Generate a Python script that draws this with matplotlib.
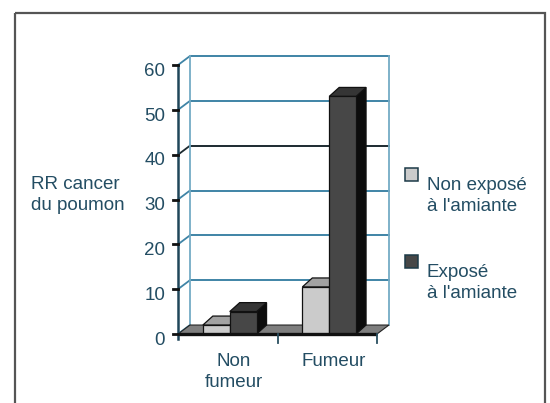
import matplotlib

matplotlib.use("Agg")

import matplotlib.pyplot as plt
from matplotlib.patches import Polygon, Rectangle
from matplotlib.transforms import Affine2D

CATEGORIES = ["Non\nfumeur", "Fumeur"]
SERIES = ["Non exposé\nà l'amiante", "Exposé\nà l'amiante"]
VALUES = {
    "Non exposé\nà l'amiante": [2, 10.5],
    "Exposé\nà l'amiante": [5, 53],
}
Y_TICKS = [0, 10, 20, 30, 40, 50, 60]
Y_LABEL = "RR cancer\ndu poumon"

W, H = 550, 403
X0, CAT_PX = 178, 99.5
Y0, UNIT_PX = 334, 4.483

WALL_DX, WALL_DY = 0.12, 2.0
BAR_DX, BAR_DY = 0.10, 2.0
BAR_W = 0.27
GROUP_SHIFT = 0.52

TEXT_COLOR = "#234d63"
GRID_COLOR = "#3f84a6"
FACE = {
    SERIES[0]: {"front": "#cbcbcb", "top": "#a2a2a2", "side": "#8a8a8a"},
    SERIES[1]: {"front": "#474747", "top": "#353535", "side": "#0c0c0c"},
}
FONT = ["Liberation Sans", "DejaVu Sans"]
FS = 13.5

plt.rcParams["font.family"] = FONT

fig = plt.figure(figsize=(W / 100, H / 100), dpi=100)
ax = fig.add_axes([0, 0, 1, 1])
ax.set_xlim(-X0 / CAT_PX, (W - X0) / CAT_PX)
ax.set_ylim((Y0 - H) / UNIT_PX, Y0 / UNIT_PX)
ax.set_axis_off()

pix = Affine2D().scale(1 / W, -1 / H).translate(0, 1) + fig.transFigure

n_cat = len(CATEGORIES)
y_top = Y_TICKS[-1]

# floor
floor = Polygon(
    [(0, 0), (n_cat, 0), (n_cat + WALL_DX, WALL_DY), (WALL_DX, WALL_DY)],
    closed=True, facecolor="#7e7e7e", edgecolor="#222222", lw=0.8, zorder=2,
)
ax.add_patch(floor)

# back wall + side wall gridlines
for v in Y_TICKS[1:]:
    color = "#1c2a30" if v == 40 else GRID_COLOR
    ax.plot([WALL_DX, n_cat + WALL_DX], [v + WALL_DY, v + WALL_DY], color=color, lw=1.4, zorder=1)
for v in Y_TICKS:
    color = "#1c2a30" if v == 40 else GRID_COLOR
    ax.plot([0, WALL_DX], [v, v + WALL_DY], color=color, lw=1.3, zorder=1)
for xe in [WALL_DX, n_cat + WALL_DX]:
    ax.plot([xe, xe], [WALL_DY, y_top + WALL_DY], color="#74abc5", lw=1.3, zorder=1)

# bars
for i in range(n_cat):
    for j, name in enumerate(SERIES):
        h = VALUES[name][i]
        left = i + GROUP_SHIFT - BAR_W + j * BAR_W
        right = left + BAR_W
        c = FACE[name]
        front = [(left, 0), (right, 0), (right, h), (left, h)]
        top = [(left, h), (right, h), (right + BAR_DX, h + BAR_DY), (left + BAR_DX, h + BAR_DY)]
        side = [(right, 0), (right + BAR_DX, BAR_DY), (right + BAR_DX, h + BAR_DY), (right, h)]
        for pts, col in [(side, c["side"]), (top, c["top"]), (front, c["front"])]:
            ax.add_patch(Polygon(pts, closed=True, facecolor=col, edgecolor="#111111", lw=0.9, zorder=3))

# floor front edge and x ticks
ax.plot([0, n_cat], [0, 0], color="#111111", lw=2.4, zorder=4, solid_capstyle="butt")
for i in range(1, n_cat + 1):
    ax.plot([i, i], [0, -1.9], color="#2a4f60", lw=1.3, zorder=4)

# front y axis
ax.plot([0, 0], [-1.2, y_top], color="#20465a", lw=1.8, zorder=5)
for v in Y_TICKS:
    ax.plot([-0.05, 0], [v, v], color="#111111", lw=2.0, zorder=5)
    ax.text(-0.13, v - 1.4, str(v), ha="right", va="center", fontsize=FS,
            color=TEXT_COLOR, zorder=5)

for i, cat in enumerate(CATEGORIES):
    ax.text(i + 0.56, -4.3, cat, ha="center", va="top", fontsize=FS,
            color=TEXT_COLOR, linespacing=1.3)

fig.text(31, 176, Y_LABEL, transform=pix, ha="left", va="top", fontsize=FS,
         color=TEXT_COLOR, linespacing=1.3)

# legend
legend_rows = [168, 255]
for name, top_px in zip(SERIES, legend_rows):
    fig.patches.append(Rectangle((405, top_px), 13, 13, transform=pix,
                                 facecolor=FACE[name]["front"], edgecolor="#1d3a48", lw=1.1))
    fig.text(427, top_px + 9, name, transform=pix, ha="left", va="top", fontsize=FS,
             color=TEXT_COLOR, linespacing=1.3)

# outer frame
fig.patches.append(Rectangle((15, 13), 530, 420, transform=pix, fill=False,
                             edgecolor="#555555", lw=1.6))

fig.savefig("out.png", dpi=100)
